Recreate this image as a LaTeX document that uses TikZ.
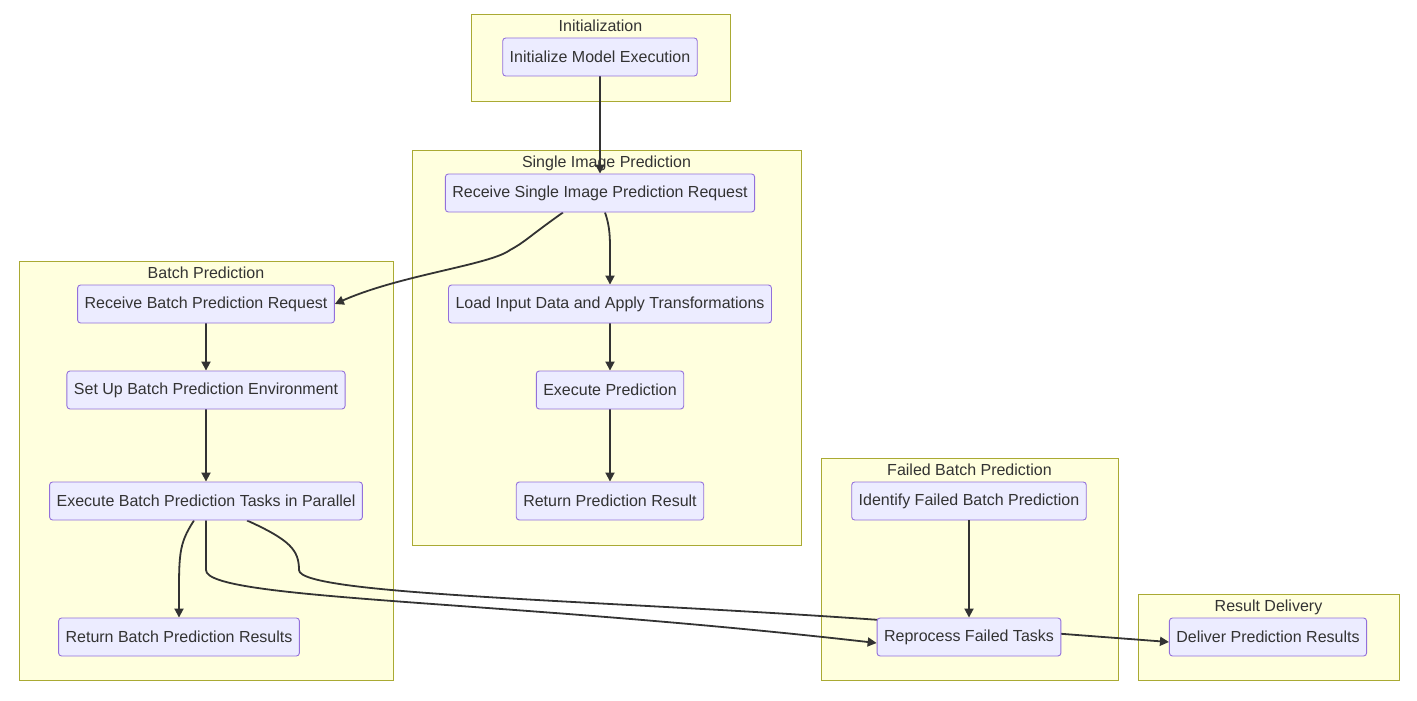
\documentclass[tikz,border=0pt]{standalone}
\usepackage{fontspec}
\setmainfont{Liberation Sans}
\usetikzlibrary{positioning, arrows.meta, backgrounds}
\definecolor{clfill}{HTML}{FFFFDE}
\definecolor{cldraw}{HTML}{AAAA33}
\definecolor{ndfill}{HTML}{ECECFF}
\definecolor{nddraw}{HTML}{9370DB}
\definecolor{txt}{HTML}{333333}
\pgfdeclarelayer{edges}
\pgfsetlayers{background,edges,main}
\tikzset{
  flowstep/.style={draw=nddraw, fill=ndfill, rounded corners=3pt, line width=0.9pt,
    minimum height=38pt, inner xsep=7pt, text=txt, font=\fontsize{16}{19}\selectfont},
  arrow/.style={line width=1.8pt, draw=txt, -{Triangle[length=9pt,width=9pt]}},
  cluster/.style={draw=cldraw, fill=clfill, line width=0.9pt}
}
\newcommand{\cluster}[5]{%
  \draw[cluster] (#1,#2) rectangle (#3,#4);
  \node[text=txt, font=\fontsize{16}{19}\selectfont, anchor=north] at ({(#1+#3)/2},#2+2) {#5};}

\begin{document}
\begin{tikzpicture}[x=1pt, y=-1pt]
  \useasboundingbox (0,0) rectangle (1417,701);

  \begin{pgfonlayer}{background}
    \cluster{471}{14}{730}{101}{Initialization}
    \cluster{412}{150}{801}{545}{Single Image Prediction}
    \cluster{19}{261}{393}{680}{Batch Prediction}
    \cluster{821}{458}{1118}{680}{Failed Batch Prediction}
    \cluster{1138}{594}{1399}{680}{Result Delivery}
  \end{pgfonlayer}

  % steps
  \node[flowstep] (init) at (600,57) {Initialize Model Execution};
  \node[flowstep] (recvsingle) at (600,193) {Receive Single Image Prediction Request};
  \node[flowstep] (load) at (610,304) {Load Input Data and Apply Transformations};
  \node[flowstep] (exec) at (610,390) {Execute Prediction};
  \node[flowstep] (ret) at (610,501) {Return Prediction Result};
  \node[flowstep] (recvbatch) at (206,304) {Receive Batch Prediction Request};
  \node[flowstep] (setup) at (206,390) {Set Up Batch Prediction Environment};
  \node[flowstep] (execbatch) at (206,501) {Execute Batch Prediction Tasks in Parallel};
  \node[flowstep] (retbatch) at (179,637) {Return Batch Prediction Results};
  \node[flowstep] (identify) at (969,501) {Identify Failed Batch Prediction};
  \node[flowstep] (reprocess) at (969,637) {Reprocess Failed Tasks};
  \node[flowstep] (deliver) at (1268,637) {Deliver Prediction Results};

  % connectors
  \begin{pgfonlayer}{edges}
    \draw[arrow] (init) -- (recvsingle);
    \draw[arrow] ([xshift=-37pt]recvsingle.south) .. controls (527,238) and (525,242) .. (510,250)
      .. controls (490,265) and (400,275) .. (recvbatch.east);
    \draw[arrow] ([xshift=5pt]recvsingle.south) .. controls (611,230) and (610,240) .. (load.north);
    \draw[arrow] (load) -- (exec);
    \draw[arrow] (exec) -- (ret);
    \draw[arrow] (recvbatch) -- (setup);
    \draw[arrow] (setup) -- (execbatch);
    \draw[arrow] ([xshift=-12pt]execbatch.south) .. controls (178,545) and (179,555) .. (retbatch.north);
    \draw[arrow] (execbatch.south) -- (206,570) .. controls (206,600) and (500,600) .. ([yshift=-6pt]reprocess.west);
    \draw[arrow] ([xshift=41pt]execbatch.south) .. controls (290,540) and (299,550) .. (299,570)
      .. controls (299,595) and (600,600) .. (880,620) -- ([yshift=-5pt]deliver.west);
  \end{pgfonlayer}
  \draw[arrow] (identify) -- (reprocess);
\end{tikzpicture}
\end{document}
